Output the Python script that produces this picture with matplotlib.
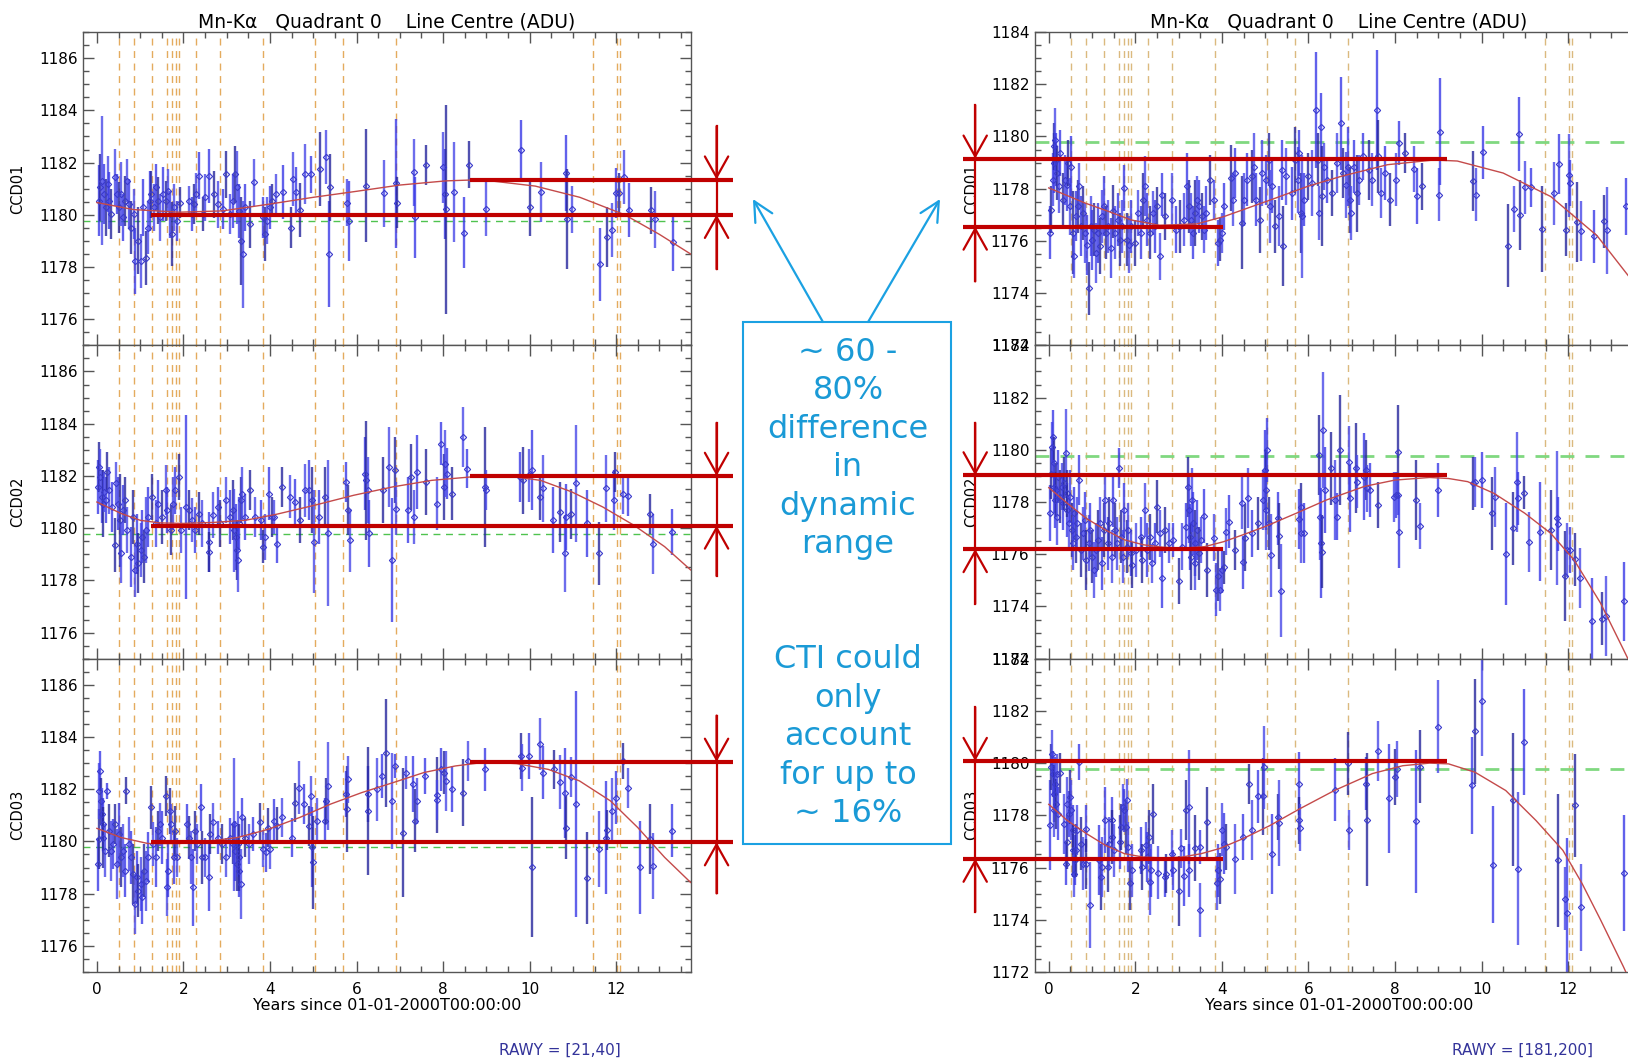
import matplotlib
matplotlib.use('Agg')
import matplotlib.pyplot as plt
from matplotlib.patches import Rectangle, FancyArrowPatch
from matplotlib.ticker import MultipleLocator
import numpy as np

# ---------------- data (years since 2000, line centre in ADU) ----------------

# orange dashed epochs (same on every panel)
event_years = [0.52, 0.85, 1.28, 1.62, 1.73, 1.83, 1.90, 2.29, 2.84, 3.84,
               5.05, 5.68, 6.91, 11.46, 12.03, 12.09]
ref_level = 1179.77

# RAWY [21,40]  CCD01
l1_x = [0.04, 0.08, 0.12, 0.17, 0.21, 0.25, 0.29, 0.33, 0.43, 0.46,
        0.52, 0.56, 0.60, 0.66, 0.70, 0.74, 0.80, 0.85, 0.88, 0.95,
        1.01, 1.07, 1.14, 1.18, 1.22, 1.26, 1.31, 1.36, 1.41, 1.47,
        1.52, 1.59, 1.65, 1.69, 1.73, 1.78, 1.84, 1.93, 2.14, 2.19,
        2.24, 2.29, 2.37, 2.45, 2.50, 2.60, 2.70, 2.81, 2.91, 2.99,
        3.07, 3.14, 3.20, 3.24, 3.28, 3.32, 3.37, 3.43, 3.53, 3.63,
        3.84, 3.89, 3.94, 3.99, 4.05, 4.15, 4.30, 4.48, 4.54, 4.61,
        4.69, 4.82, 4.95, 5.16, 5.30, 5.37, 5.39, 5.78, 5.83, 6.23,
        6.63, 6.91, 6.94, 7.33, 7.35, 7.61, 7.99, 8.05, 8.07, 8.25,
        8.48, 8.59, 9.00, 9.80, 10.01, 10.27, 10.84, 10.86, 10.98, 11.63,
        11.79, 11.91, 12.00, 12.06, 12.17, 12.30, 12.80, 12.90, 13.31]
l1_y = [1180.54, 1181.05, 1181.31, 1180.79, 1180.28, 1181.18, 1180.54, 1180.03, 1181.44, 1180.79,
        1180.28, 1180.79, 1179.90, 1180.54, 1181.31, 1180.41, 1179.51, 1180.03, 1178.23, 1179.00,
        1178.23, 1180.28, 1178.36, 1179.51, 1180.54, 1180.79, 1180.28, 1181.05, 1180.54, 1179.90,
        1180.79, 1180.54, 1180.92, 1180.03, 1179.26, 1180.28, 1179.77, 1180.47, 1180.54, 1180.03,
        1180.41, 1180.79, 1181.50, 1180.03, 1180.67, 1181.50, 1180.79, 1180.41, 1180.22, 1181.56,
        1180.03, 1180.54, 1181.56, 1181.05, 1180.15, 1179.00, 1178.49, 1180.28, 1179.64, 1181.24,
        1179.90, 1179.26, 1179.77, 1180.28, 1180.54, 1180.79, 1180.86, 1179.51, 1181.37, 1180.86,
        1180.18, 1181.56, 1181.56, 1181.76, 1182.21, 1178.49, 1181.05, 1180.47, 1179.77, 1181.12,
        1180.82, 1181.21, 1180.47, 1181.63, 1179.90, 1181.91, 1181.82, 1180.79, 1180.22, 1180.86,
        1179.32, 1181.91, 1180.22, 1182.50, 1180.28, 1180.88, 1181.60, 1179.83, 1180.22, 1178.10,
        1179.15, 1179.41, 1180.82, 1180.82, 1181.44, 1180.18, 1180.18, 1179.83, 1178.94]
l1_e = [1.35, 1.28, 2.47, 1.15, 1.09, 1.09, 1.09, 0.96, 1.09, 0.77,
        0.96, 1.22, 0.90, 0.96, 0.83, 0.96, 1.03, 0.96, 1.28, 1.28,
        1.03, 1.09, 1.03, 1.03, 1.15, 0.90, 0.90, 0.90, 0.90, 0.90,
        1.03, 0.77, 0.83, 0.90, 1.22, 0.90, 0.77, 0.58, 0.58, 0.64,
        0.77, 0.83, 0.90, 0.64, 0.90, 1.03, 0.90, 0.90, 0.77, 0.90,
        0.77, 1.03, 1.09, 1.41, 1.03, 1.67, 2.05, 0.90, 0.90, 0.90,
        0.77, 1.03, 0.90, 0.83, 0.64, 0.77, 1.03, 0.77, 1.03, 0.96,
        1.03, 1.15, 0.71, 1.41, 1.03, 2.02, 1.28, 0.90, 1.54, 2.18,
        1.28, 2.47, 0.96, 1.28, 1.54, 0.77, 1.35, 1.73, 4.00, 1.92,
        1.35, 0.90, 1.03, 1.15, 1.09, 1.15, 1.47, 1.92, 0.90, 1.41,
        1.15, 1.03, 0.96, 0.77, 1.03, 1.03, 0.90, 1.09, 1.09]
l1_fit_x = [0.0, 0.85, 1.9, 2.9, 3.95, 5.0, 6.0, 7.0, 8.07, 8.6, 9.1, 10.13, 11.16, 12.2, 13.0, 13.72]
l1_fit_y = [1180.47, 1180.20, 1180.10, 1180.15, 1180.40, 1180.67, 1180.90, 1181.14, 1181.30, 1181.33,
            1181.30, 1181.10, 1180.67, 1180.00, 1179.25, 1178.50]

# RAWY [21,40]  CCD02
l2_x = [0.02, 0.05, 0.08, 0.11, 0.13, 0.16, 0.20, 0.24, 0.29, 0.36,
        0.42, 0.45, 0.48, 0.54, 0.56, 0.60, 0.66, 0.69, 0.78, 0.83,
        0.87, 0.92, 0.96, 1.01, 1.05, 1.10, 1.14, 1.18, 1.27, 1.36,
        1.41, 1.50, 1.59, 1.63, 1.71, 1.77, 1.81, 1.89, 1.95, 2.06,
        2.13, 2.19, 2.26, 2.35, 2.44, 2.58, 2.60, 2.69, 2.80, 2.85,
        2.98, 3.07, 3.14, 3.18, 3.21, 3.23, 3.25, 3.28, 3.32, 3.36,
        3.43, 3.55, 3.65, 3.79, 3.84, 3.88, 3.97, 4.04, 4.10, 4.17,
        4.28, 4.46, 4.58, 4.69, 4.82, 4.91, 4.96, 5.01, 5.13, 5.27,
        5.34, 5.76, 5.81, 5.85, 6.19, 6.23, 6.26, 6.28, 6.62, 6.75,
        6.82, 6.89, 6.91, 7.18, 7.27, 7.33, 7.40, 7.60, 7.85, 7.96,
        8.01, 8.05, 8.08, 8.21, 8.46, 8.56, 8.98, 8.99, 9.78, 9.85,
        9.98, 10.05, 10.23, 10.30, 10.54, 10.70, 10.81, 10.84, 10.95, 11.08,
        11.33, 11.60, 11.76, 11.94, 11.97, 12.15, 12.27, 12.78, 12.85, 13.29]
l2_y = [1181.58, 1182.34, 1181.96, 1181.20, 1180.94, 1181.39, 1181.07, 1182.15, 1181.45, 1180.81,
        1179.35, 1181.71, 1180.94, 1180.31, 1179.03, 1180.69, 1181.07, 1179.92, 1178.90, 1180.43,
        1178.39, 1179.41, 1178.65, 1179.16, 1179.67, 1178.90, 1179.92, 1180.43, 1181.20, 1180.18,
        1180.94, 1180.43, 1181.45, 1180.69, 1179.92, 1180.94, 1181.45, 1181.96, 1179.92, 1180.81,
        1180.69, 1180.31, 1179.92, 1180.56, 1180.18, 1179.48, 1179.09, 1180.50, 1180.81, 1180.18,
        1181.07, 1180.43, 1180.69, 1179.92, 1179.67, 1179.16, 1178.78, 1180.18, 1181.07, 1181.32,
        1180.43, 1181.45, 1180.43, 1180.31, 1179.29, 1179.67, 1181.32, 1180.43, 1180.43, 1179.41,
        1181.58, 1181.20, 1181.01, 1180.31, 1181.45, 1181.45, 1181.07, 1179.48, 1180.43, 1181.20,
        1179.80, 1181.77, 1180.69, 1179.54, 1182.09, 1181.83, 1181.45, 1179.80, 1181.45, 1182.34,
        1178.78, 1182.22, 1180.75, 1180.69, 1181.96, 1180.43, 1182.15, 1181.77, 1180.94, 1183.24,
        1181.58, 1182.47, 1182.09, 1181.32, 1183.49, 1182.28, 1181.58, 1181.45, 1181.96, 1181.83,
        1182.02, 1182.22, 1181.20, 1181.52, 1180.31, 1180.62, 1179.03, 1180.43, 1180.53, 1181.71,
        1180.18, 1179.03, 1181.52, 1181.07, 1182.15, 1181.32, 1181.22, 1180.53, 1179.41, 1179.86]
l2_e = [1.02, 0.96, 1.08, 1.02, 1.27, 0.76, 0.89, 0.76, 0.89, 0.96,
        1.02, 0.83, 1.02, 1.78, 1.15, 0.96, 0.89, 0.89, 1.15, 1.02,
        1.02, 1.15, 1.15, 1.02, 1.02, 1.02, 1.27, 1.15, 0.89, 0.89,
        0.89, 1.02, 0.96, 0.89, 0.96, 1.02, 0.89, 0.89, 0.89, 3.54,
        0.76, 0.83, 0.89, 0.83, 0.89, 1.15, 0.76, 0.89, 0.76, 0.89,
        0.89, 1.02, 1.15, 1.59, 1.27, 1.15, 1.21, 1.02, 0.89, 1.02,
        0.89, 0.76, 0.76, 0.76, 0.64, 0.89, 1.02, 0.76, 0.64, 0.76,
        0.76, 0.83, 0.89, 0.89, 1.02, 1.15, 1.27, 1.97, 1.02, 1.15,
        2.80, 0.76, 0.96, 1.21, 1.40, 2.29, 1.27, 1.27, 1.27, 1.53,
        2.36, 1.27, 1.02, 1.27, 1.27, 1.02, 1.40, 1.27, 1.02, 0.83,
        1.27, 1.27, 0.96, 1.02, 1.15, 0.76, 2.29, 0.76, 0.96, 1.27,
        1.02, 1.53, 0.89, 1.27, 1.27, 1.15, 1.47, 1.27, 0.96, 2.23,
        1.27, 1.21, 1.27, 1.15, 0.76, 0.76, 0.76, 0.76, 1.15, 0.89]
l2_fit_x = [0.0, 0.56, 1.0, 1.45, 2.0, 2.71, 3.43, 4.15, 5.04, 5.94, 6.84, 7.74, 8.64, 9.53,
            10.25, 10.97, 11.69, 12.41, 13.12, 13.72]
l2_fit_y = [1181.00, 1180.56, 1180.30, 1180.20, 1180.18, 1180.22, 1180.30, 1180.53, 1180.88, 1181.26,
            1181.58, 1181.83, 1181.96, 1181.99, 1181.83, 1181.39, 1180.81, 1180.11, 1179.29, 1178.40]

# RAWY [21,40]  CCD03
l3_x = [0.02, 0.04, 0.05, 0.07, 0.09, 0.11, 0.13, 0.15, 0.18, 0.23,
        0.29, 0.33, 0.38, 0.43, 0.47, 0.51, 0.56, 0.60, 0.65, 0.67,
        0.74, 0.78, 0.83, 0.87, 0.92, 0.96, 1.01, 1.05, 1.10, 1.14,
        1.18, 1.26, 1.29, 1.36, 1.42, 1.45, 1.50, 1.59, 1.62, 1.65,
        1.68, 1.72, 1.78, 1.81, 1.86, 2.08, 2.13, 2.17, 2.22, 2.26,
        2.32, 2.40, 2.44, 2.51, 2.58, 2.62, 2.69, 2.80, 2.89, 2.98,
        3.07, 3.14, 3.18, 3.20, 3.23, 3.25, 3.28, 3.29, 3.32, 3.36,
        3.43, 3.52, 3.61, 3.77, 3.83, 3.90, 3.95, 4.01, 4.10, 4.17,
        4.28, 4.51, 4.58, 4.67, 4.78, 4.90, 4.94, 4.97, 4.99, 5.09,
        5.27, 5.30, 5.35, 5.76, 5.78, 5.80, 6.26, 6.27, 6.48, 6.60,
        6.69, 6.82, 6.89, 7.07, 7.15, 7.31, 7.34, 7.40, 7.59, 7.85,
        7.86, 7.96, 8.02, 8.06, 8.21, 8.46, 8.57, 8.98, 9.79, 9.83,
        9.98, 10.05, 10.23, 10.30, 10.57, 10.70, 10.81, 10.84, 10.95, 11.08,
        11.33, 11.60, 11.76, 11.78, 11.91, 12.00, 12.15, 12.27, 12.56, 12.78,
        12.85, 13.29]
l3_y = [1179.13, 1180.09, 1181.94, 1182.70, 1181.55, 1181.04, 1180.66, 1180.15, 1179.64, 1181.94,
        1180.41, 1179.64, 1179.90, 1180.66, 1179.13, 1180.28, 1179.39, 1179.64, 1178.88, 1181.94,
        1179.90, 1179.39, 1178.75, 1177.60, 1178.62, 1178.11, 1178.37, 1177.86, 1178.88, 1178.50,
        1179.39, 1181.30, 1179.90, 1179.39, 1180.41, 1180.66, 1180.15, 1181.74, 1178.24, 1178.88,
        1181.17, 1180.66, 1179.39, 1180.41, 1179.39, 1180.66, 1180.15, 1179.39, 1178.24, 1180.41,
        1179.90, 1181.30, 1179.39, 1179.39, 1178.62, 1180.28, 1180.73, 1180.15, 1179.90, 1179.39,
        1180.15, 1179.90, 1180.66, 1179.64, 1179.13, 1179.90, 1178.88, 1179.39, 1178.37, 1180.92,
        1180.15, 1179.90, 1180.28, 1180.73, 1179.71, 1179.58, 1180.53, 1179.71, 1180.79, 1180.60,
        1180.92, 1180.15, 1181.49, 1182.06, 1181.43, 1180.60, 1181.74, 1179.77, 1179.20, 1180.79,
        1180.79, 1181.55, 1182.13, 1181.81, 1181.24, 1182.38, 1181.81, 1181.17, 1182.00, 1182.51,
        1183.40, 1181.55, 1182.89, 1180.34, 1182.64, 1182.19, 1180.79, 1181.55, 1182.51, 1181.78,
        1181.58, 1182.76, 1182.64, 1182.32, 1182.00, 1181.87, 1183.08, 1182.76, 1183.27, 1182.83,
        1183.27, 1179.01, 1183.74, 1182.64, 1182.76, 1182.28, 1181.87, 1180.53, 1182.47, 1181.45,
        1178.60, 1179.71, 1180.15, 1180.45, 1181.17, 1181.68, 1183.08, 1182.04, 1179.01, 1180.09,
        1179.07, 1180.41]
l3_e = [1.02, 1.15, 1.08, 0.76, 0.89, 1.02, 1.02, 1.15, 1.02, 0.30,
        1.02, 1.15, 0.96, 0.76, 1.34, 1.21, 1.15, 1.02, 1.02, 0.51,
        1.02, 1.02, 1.15, 1.15, 1.02, 1.02, 1.02, 1.02, 1.02, 1.15,
        0.96, 0.83, 0.83, 1.15, 0.76, 0.83, 1.02, 0.76, 1.08, 1.02,
        0.89, 0.76, 1.02, 0.96, 0.76, 0.76, 0.83, 1.02, 1.47, 0.76,
        0.76, 0.89, 1.02, 0.76, 1.27, 0.76, 0.76, 0.64, 0.76, 0.76,
        0.76, 0.76, 2.55, 1.15, 1.02, 1.27, 1.02, 1.27, 1.34, 0.76,
        0.76, 0.76, 0.64, 0.76, 0.70, 0.76, 0.76, 0.76, 0.83, 0.70,
        0.76, 0.76, 0.76, 1.02, 0.76, 0.76, 0.76, 1.53, 1.78, 0.89,
        0.89, 0.89, 1.69, 0.89, 1.66, 0.89, 1.08, 2.45, 1.21, 0.83,
        2.07, 1.85, 0.45, 2.48, 0.64, 1.08, 1.21, 0.89, 0.70, 1.47,
        0.76, 0.83, 0.83, 1.15, 0.89, 1.27, 0.76, 0.83, 0.89, 0.89,
        0.89, 2.68, 0.99, 1.02, 0.76, 1.02, 1.72, 1.21, 0.76, 4.33,
        1.78, 1.47, 2.17, 0.76, 1.27, 1.02, 0.70, 0.76, 1.78, 1.34,
        1.27, 1.02]
l3_fit_x = [0.0, 0.56, 1.18, 1.9, 2.62, 3.25, 3.97, 4.69, 5.4, 6.12, 6.84, 7.56, 8.28, 9.0, 9.7,
            10.43, 11.15, 11.87, 12.5, 13.12, 13.72]
l3_fit_y = [1180.50, 1180.15, 1179.92, 1179.92, 1180.02, 1180.15, 1180.47, 1180.92, 1181.43, 1181.87,
            1182.25, 1182.64, 1182.89, 1183.04, 1182.98, 1182.76, 1182.32, 1181.55, 1180.53, 1179.39,
            1178.43]

# RAWY [181,200]  CCD01
r1_x = [0.03, 0.05, 0.09, 0.11, 0.13, 0.15, 0.17, 0.19, 0.23, 0.27,
        0.32, 0.37, 0.41, 0.44, 0.48, 0.52, 0.55, 0.58, 0.62, 0.67,
        0.71, 0.75, 0.80, 0.84, 0.88, 0.92, 0.97, 1.01, 1.05, 1.10,
        1.14, 1.18, 1.23, 1.27, 1.32, 1.38, 1.43, 1.48, 1.54, 1.59,
        1.64, 1.70, 1.75, 1.81, 1.86, 1.91, 2.00, 2.07, 2.13, 2.18,
        2.22, 2.27, 2.34, 2.40, 2.45, 2.51, 2.56, 2.61, 2.69, 2.84,
        2.93, 3.03, 3.12, 3.20, 3.25, 3.29, 3.33, 3.38, 3.42, 3.47,
        3.53, 3.58, 3.63, 3.72, 3.81, 3.91, 3.96, 4.01, 4.06, 4.20,
        4.26, 4.30, 4.47, 4.52, 4.58, 4.69, 4.74, 4.79, 4.87, 4.92,
        5.03, 5.09, 5.12, 5.16, 5.22, 5.31, 5.38, 5.41, 5.48, 5.62,
        5.68, 5.76, 5.78, 5.82, 5.85, 5.89, 6.00, 6.09, 6.17, 6.22,
        6.25, 6.29, 6.32, 6.36, 6.43, 6.54, 6.65, 6.75, 6.80, 6.86,
        6.91, 6.95, 6.99, 7.05, 7.13, 7.18, 7.27, 7.40, 7.46, 7.59,
        7.61, 7.67, 7.77, 7.88, 8.02, 8.09, 8.23, 8.43, 8.52, 8.63,
        9.01, 9.03, 9.81, 9.87, 10.03, 10.62, 10.75, 10.87, 10.89, 11.00,
        11.14, 11.40, 11.67, 11.80, 11.96, 12.02, 12.04, 12.21, 12.31, 12.61,
        12.82, 12.90, 13.33]
r1_y = [1176.31, 1177.20, 1178.34, 1178.98, 1179.62, 1179.87, 1179.11, 1178.60, 1178.09, 1179.36,
        1177.58, 1178.34, 1178.15, 1178.98, 1177.32, 1178.85, 1176.31, 1175.41, 1176.94, 1177.32,
        1178.09, 1176.56, 1177.07, 1176.31, 1175.86, 1174.19, 1176.56, 1176.05, 1176.43, 1175.54,
        1176.31, 1175.80, 1176.94, 1177.32, 1176.31, 1176.56, 1175.73, 1177.13, 1176.31, 1176.81,
        1176.05, 1176.56, 1178.03, 1176.05, 1175.86, 1176.56, 1175.92, 1177.07, 1176.31, 1177.58,
        1178.09, 1176.81, 1176.31, 1177.07, 1176.56, 1177.32, 1175.41, 1177.77, 1176.94, 1177.58,
        1176.43, 1176.56, 1176.81, 1178.09, 1177.32, 1176.81, 1176.31, 1177.07, 1177.58, 1177.32,
        1176.94, 1176.43, 1177.07, 1178.34, 1177.58, 1175.92, 1176.05, 1176.31, 1177.32, 1178.41,
        1177.58, 1178.60, 1176.69, 1177.58, 1178.34, 1178.47, 1178.85, 1177.58, 1176.81, 1178.60,
        1178.34, 1179.11, 1177.32, 1178.09, 1176.56, 1176.94, 1178.73, 1175.80, 1178.47, 1177.83,
        1179.11, 1178.34, 1179.36, 1177.07, 1176.94, 1177.58, 1178.47, 1178.22, 1181.02, 1179.11,
        1177.07, 1180.38, 1177.71, 1178.85, 1178.34, 1177.83, 1178.98, 1180.51, 1178.60, 1178.15,
        1178.85, 1177.58, 1177.07, 1178.85, 1177.83, 1178.34, 1179.24, 1178.73, 1178.34, 1181.02,
        1179.24, 1177.83, 1178.60, 1177.58, 1178.34, 1179.75, 1179.36, 1178.75, 1177.71, 1178.09,
        1177.77, 1180.19, 1178.28, 1177.77, 1179.40, 1175.82, 1177.22, 1180.10, 1177.01, 1178.05,
        1178.05, 1176.46, 1177.83, 1178.94, 1176.43, 1178.51, 1178.22, 1176.71, 1176.37, 1176.18,
        1176.75, 1176.41, 1177.32]
r1_e = [1.02, 0.89, 1.02, 1.15, 0.89, 1.21, 1.02, 1.02, 1.02, 0.89,
        1.02, 0.96, 1.02, 0.89, 1.08, 1.15, 1.59, 0.83, 0.96, 1.02,
        0.89, 1.15, 1.02, 1.15, 1.15, 1.02, 1.15, 1.15, 1.02, 1.15,
        1.15, 1.08, 1.02, 1.15, 1.02, 1.02, 1.15, 1.02, 1.02, 1.02,
        1.02, 1.02, 0.89, 1.02, 1.08, 1.02, 0.89, 0.89, 1.02, 1.02,
        1.15, 1.02, 1.02, 0.83, 1.02, 0.76, 0.89, 0.83, 0.89, 1.02,
        0.89, 1.02, 1.02, 1.27, 1.02, 1.02, 1.02, 1.27, 0.89, 1.02,
        0.89, 0.89, 1.02, 0.96, 0.76, 0.89, 0.83, 0.76, 0.89, 1.27,
        1.02, 0.96, 1.78, 1.02, 1.02, 1.02, 1.27, 1.02, 1.27, 1.27,
        0.96, 1.02, 1.40, 1.02, 1.02, 1.15, 1.15, 1.53, 1.08, 1.02,
        1.27, 1.27, 0.89, 1.53, 2.36, 1.02, 0.89, 1.27, 2.23, 1.02,
        1.02, 1.27, 1.91, 0.89, 0.89, 0.89, 1.15, 1.78, 0.96, 1.27,
        1.53, 1.27, 1.02, 1.02, 1.47, 0.96, 0.89, 1.15, 1.02, 2.29,
        1.40, 0.96, 1.02, 1.02, 1.02, 0.83, 0.76, 0.89, 1.08, 0.89,
        1.02, 2.04, 1.15, 1.02, 1.02, 1.59, 0.89, 1.43, 1.34, 1.02,
        0.76, 1.66, 1.21, 1.15, 1.02, 1.59, 0.89, 1.53, 1.15, 1.02,
        1.02, 1.66, 1.08]
r1_fit_x = [0.0, 0.84, 1.38, 1.91, 2.56, 3.42, 4.06, 5.14, 6.0, 6.75, 7.83, 8.9, 9.44, 10.5,
            11.6, 12.67, 13.4, 13.6]
r1_fit_y = [1178.03, 1177.45, 1177.13, 1176.80, 1176.60, 1176.65, 1176.94, 1177.58, 1178.10, 1178.47,
            1178.92, 1179.10, 1179.06, 1178.60, 1177.70, 1176.20, 1174.65, 1174.20]

# RAWY [181,200]  CCD02
r2_x = [0.04, 0.06, 0.08, 0.10, 0.12, 0.13, 0.15, 0.17, 0.20, 0.22,
        0.26, 0.30, 0.33, 0.36, 0.39, 0.42, 0.43, 0.47, 0.50, 0.54,
        0.57, 0.59, 0.63, 0.66, 0.70, 0.74, 0.79, 0.83, 0.87, 0.92,
        0.96, 1.01, 1.05, 1.09, 1.14, 1.18, 1.23, 1.27, 1.31, 1.36,
        1.40, 1.45, 1.49, 1.53, 1.58, 1.63, 1.67, 1.71, 1.75, 1.80,
        1.84, 1.89, 1.93, 2.02, 2.12, 2.16, 2.23, 2.28, 2.35, 2.39,
        2.46, 2.51, 2.56, 2.62, 2.69, 2.77, 2.86, 3.01, 3.08, 3.16,
        3.21, 3.23, 3.26, 3.29, 3.31, 3.34, 3.37, 3.39, 3.43, 3.47,
        3.51, 3.59, 3.65, 3.81, 3.87, 3.91, 3.96, 4.00, 4.04, 4.10,
        4.17, 4.31, 4.47, 4.49, 4.54, 4.61, 4.69, 4.84, 4.94, 4.99,
        5.01, 5.03, 5.05, 5.10, 5.13, 5.29, 5.33, 5.36, 5.79, 5.82,
        5.84, 5.89, 6.24, 6.27, 6.30, 6.31, 6.33, 6.38, 6.53, 6.61,
        6.65, 6.72, 6.93, 6.95, 7.09, 7.12, 7.28, 7.32, 7.36, 7.42,
        7.61, 7.98, 8.02, 8.06, 8.07, 8.09, 8.49, 8.58, 8.99, 9.81,
        9.85, 10.01, 10.25, 10.31, 10.56, 10.72, 10.82, 10.85, 10.98, 11.10,
        11.35, 11.60, 11.75, 11.77, 11.92, 11.97, 12.04, 12.16, 12.27, 12.56,
        12.78, 12.87, 13.29]
r2_y = [1177.57, 1179.09, 1180.11, 1180.50, 1179.48, 1178.59, 1178.08, 1178.46, 1177.44, 1178.97,
        1178.20, 1178.59, 1177.95, 1178.71, 1179.86, 1177.69, 1178.33, 1177.18, 1178.20, 1176.93,
        1176.42, 1177.57, 1176.67, 1177.18, 1178.84, 1176.16, 1176.80, 1177.31, 1175.78, 1176.42,
        1176.93, 1175.91, 1175.40, 1176.16, 1176.55, 1177.18, 1175.65, 1176.93, 1178.08, 1176.42,
        1177.18, 1175.91, 1178.08, 1176.93, 1176.42, 1179.29, 1176.67, 1175.91, 1177.69, 1176.29,
        1176.93, 1176.04, 1175.59, 1176.16, 1176.67, 1175.78, 1177.69, 1176.16, 1176.67, 1175.65,
        1176.42, 1177.82, 1176.80, 1175.08, 1176.93, 1176.42, 1176.55, 1174.98, 1176.29, 1177.06,
        1178.59, 1177.69, 1176.67, 1175.91, 1178.08, 1177.18, 1176.42, 1175.65, 1176.93, 1176.04,
        1176.55, 1177.46, 1175.40, 1176.64, 1174.64, 1175.15, 1174.64, 1175.40, 1175.50, 1176.87,
        1177.25, 1176.16, 1177.97, 1175.69, 1176.64, 1178.14, 1176.80, 1177.18, 1178.08, 1179.22,
        1178.46, 1177.69, 1179.99, 1177.18, 1175.97, 1177.37, 1176.70, 1174.61, 1177.34, 1177.82,
        1176.80, 1176.80, 1179.80, 1177.44, 1176.42, 1176.10, 1180.75, 1178.46, 1179.29, 1178.08,
        1177.44, 1179.99, 1179.52, 1178.14, 1179.29, 1178.78, 1178.97, 1179.22, 1178.52, 1178.46,
        1177.88, 1178.20, 1178.27, 1179.92, 1178.27, 1176.87, 1178.08, 1177.08, 1178.46, 1178.71,
        1178.76, 1178.84, 1177.57, 1178.18, 1176.01, 1176.99, 1178.78, 1178.14, 1178.36, 1176.48,
        1176.87, 1176.93, 1177.39, 1177.16, 1175.18, 1176.16, 1176.16, 1175.81, 1175.08, 1173.43,
        1173.53, 1173.65, 1174.19]
r2_e = [1.08, 0.96, 0.96, 1.02, 1.02, 1.02, 1.08, 1.02, 1.08, 1.02,
        1.02, 0.89, 1.02, 1.02, 1.69, 1.02, 0.89, 1.02, 1.02, 1.02,
        1.02, 1.02, 1.02, 1.02, 0.96, 1.02, 1.02, 1.08, 1.15, 1.08,
        1.02, 1.02, 1.08, 1.02, 1.15, 1.02, 1.02, 1.02, 0.89, 1.02,
        1.02, 1.02, 1.02, 1.02, 1.02, 0.76, 1.02, 1.02, 1.02, 1.02,
        1.02, 0.89, 0.89, 1.02, 0.76, 0.89, 1.02, 1.02, 0.89, 0.76,
        0.76, 1.02, 0.89, 1.15, 0.89, 0.76, 0.64, 0.89, 0.89, 0.89,
        1.15, 1.27, 1.27, 1.27, 1.21, 1.21, 1.27, 1.02, 1.15, 1.02,
        0.89, 1.02, 1.02, 0.89, 1.02, 0.96, 0.83, 0.89, 0.64, 0.89,
        1.02, 0.76, 1.02, 1.02, 1.27, 1.15, 0.89, 1.02, 1.15, 1.53,
        1.53, 1.53, 1.21, 1.02, 1.59, 1.02, 1.27, 1.78, 1.15, 0.89,
        1.15, 1.15, 1.53, 1.66, 2.10, 1.40, 2.23, 1.66, 1.40, 1.53,
        0.89, 2.10, 1.40, 1.27, 1.72, 1.02, 1.66, 1.15, 0.89, 1.02,
        0.89, 0.96, 0.89, 1.78, 0.76, 1.40, 1.53, 0.89, 1.02, 1.02,
        0.96, 1.08, 1.40, 1.15, 1.97, 1.40, 1.91, 1.02, 0.64, 1.15,
        1.91, 1.53, 2.55, 1.02, 1.72, 1.02, 0.89, 1.02, 1.15, 1.66,
        1.02, 1.53, 1.53]
r2_fit_x = [0.0, 0.43, 0.87, 1.31, 1.75, 2.19, 2.63, 3.07, 3.6, 4.04, 4.48, 5.0, 5.72, 6.42, 7.3,
            8.0, 8.8, 9.24, 9.68, 10.29, 11.0, 11.6, 12.14, 12.75, 13.28, 13.5]
r2_fit_y = [1178.55, 1177.95, 1177.37, 1176.93, 1176.55, 1176.36, 1176.27, 1176.23, 1176.29, 1176.48,
            1176.74, 1177.06, 1177.57, 1178.08, 1178.60, 1178.84, 1178.94, 1178.90, 1178.78, 1178.33,
            1177.57, 1176.80, 1175.78, 1174.13, 1172.35, 1171.60]

# RAWY [181,200]  CCD03
r3_x = [0.04, 0.06, 0.08, 0.10, 0.12, 0.13, 0.15, 0.17, 0.19, 0.21,
        0.26, 0.35, 0.39, 0.42, 0.43, 0.46, 0.49, 0.52, 0.55, 0.57,
        0.59, 0.61, 0.64, 0.66, 0.70, 0.74, 0.79, 0.86, 0.87, 0.96,
        1.16, 1.21, 1.24, 1.30, 1.36, 1.40, 1.45, 1.47, 1.51, 1.64,
        1.68, 1.72, 1.75, 1.78, 1.81, 1.84, 1.88, 1.93, 2.12, 2.16,
        2.24, 2.28, 2.32, 2.35, 2.37, 2.41, 2.53, 2.68, 2.72, 2.85,
        2.86, 3.01, 3.06, 3.13, 3.18, 3.23, 3.25, 3.38, 3.49, 3.50,
        3.65, 3.88, 3.91, 3.96, 4.00, 4.04, 4.09, 4.31, 4.48, 4.62,
        4.69, 4.84, 4.94, 4.98, 5.17, 5.29, 5.33, 5.79, 5.79, 5.80,
        6.61, 6.91, 6.93, 7.32, 7.35, 7.61, 7.87, 7.99, 8.05, 8.49,
        8.59, 8.99, 9.79, 9.85, 10.01, 10.27, 10.72, 10.84, 10.98, 11.77,
        11.92, 11.97, 12.16, 12.29, 13.29]
r3_y = [1177.62, 1179.85, 1180.36, 1179.59, 1178.83, 1178.19, 1179.21, 1178.45, 1179.59, 1178.06,
        1179.62, 1177.68, 1176.15, 1176.98, 1178.45, 1178.06, 1178.70, 1178.19, 1177.43, 1176.66,
        1175.77, 1176.28, 1176.66, 1177.43, 1180.04, 1176.92, 1176.15, 1177.49, 1176.15, 1174.56,
        1176.28, 1175.64, 1176.02, 1177.81, 1176.02, 1176.92, 1177.81, 1177.17, 1176.66, 1176.98,
        1177.55, 1178.32, 1178.19, 1177.55, 1178.57, 1176.79, 1175.39, 1175.90, 1176.66, 1176.02,
        1176.85, 1176.41, 1177.17, 1175.45, 1175.90, 1178.06, 1175.80, 1175.64, 1175.77, 1176.53,
        1175.90, 1175.09, 1176.73, 1175.69, 1178.19, 1178.32, 1175.90, 1176.75, 1174.37, 1176.79,
        1177.76, 1175.41, 1175.90, 1175.58, 1177.45, 1176.92, 1176.79, 1176.34, 1177.17, 1179.21,
        1177.45, 1178.73, 1178.73, 1179.85, 1176.53, 1177.94, 1177.71, 1179.21, 1177.81, 1177.53,
        1178.98, 1180.00, 1177.45, 1179.21, 1177.83, 1180.45, 1178.65, 1179.46, 1179.78, 1177.77,
        1179.87, 1181.40, 1179.15, 1181.22, 1182.36, 1176.11, 1178.60, 1175.96, 1180.80, 1176.28,
        1174.81, 1174.27, 1178.38, 1174.47, 1175.80]
r3_e = [1.72, 0.89, 0.89, 0.89, 1.08, 1.02, 1.02, 0.96, 0.76, 1.02,
        0.76, 1.15, 0.83, 1.02, 1.02, 0.89, 1.02, 1.15, 0.96, 1.02,
        0.89, 0.96, 1.02, 0.96, 0.70, 1.02, 1.02, 0.89, 0.96, 1.66,
        1.34, 1.27, 1.15, 1.27, 0.96, 1.02, 0.89, 1.02, 1.02, 1.02,
        0.89, 0.89, 0.83, 1.02, 0.83, 0.96, 1.02, 1.02, 0.89, 0.89,
        0.89, 0.96, 1.02, 1.27, 1.02, 1.15, 1.02, 0.76, 0.76, 0.89,
        0.76, 1.34, 0.76, 1.15, 1.15, 2.17, 1.02, 1.27, 1.02, 0.64,
        1.34, 1.02, 1.02, 0.96, 1.02, 1.15, 0.89, 1.34, 0.89, 0.76,
        1.15, 1.02, 1.47, 1.59, 1.53, 0.89, 1.66, 1.21, 0.89, 0.89,
        1.21, 1.21, 0.76, 1.02, 2.55, 1.15, 2.10, 1.08, 1.08, 2.74,
        1.40, 1.78, 1.85, 2.01, 2.10, 2.23, 2.55, 2.93, 2.04, 2.55,
        1.21, 2.87, 1.97, 1.66, 2.23]
r3_fit_x = [0.0, 0.43, 0.87, 1.31, 1.75, 2.19, 2.63, 3.07, 3.52, 3.95, 4.48, 5.1, 5.8, 6.6, 7.48,
            8.18, 8.8, 9.24, 9.85, 10.56, 11.26, 11.88, 12.32, 12.75, 13.28, 13.5]
r3_fit_y = [1178.42, 1177.80, 1177.30, 1176.85, 1176.53, 1176.40, 1176.37, 1176.40, 1176.53, 1176.73,
            1177.10, 1177.60, 1178.25, 1178.95, 1179.60, 1179.90, 1180.00, 1179.97, 1179.65, 1178.95,
            1177.80, 1176.66, 1175.40, 1174.00, 1172.20, 1171.40]

# red range markers: (upper level, lower level, arrow top, arrow bottom)
left_ranges = [(1181.35, 1180.00, 1183.39, 1177.92),
               (1182.00, 1180.10, 1184.03, 1178.17),
               (1183.05, 1179.97, 1184.82, 1178.01)]
right_ranges = [(1179.15, 1176.55, 1181.20, 1174.45),
                (1179.02, 1176.20, 1181.03, 1174.10),
                (1180.08, 1176.34, 1182.14, 1174.30)]

# ---------------- figure ----------------
RED = '#c00000'
BLUE_NOTE = '#1ba1e2'
BAR_COLS = ['#3a3ae6', '#26269c', '#4848e8']

fig = plt.figure(figsize=(16.28, 10.61), dpi=100)

panel_h = 0.2953
bottom0 = 0.0839
ax_w = 0.3732
xlim = (-0.32, 13.72)


def draw_panel(ax, x, y, e, fx, fy, ylim, ticks, vcol, gcol, glw):
    n = min(len(x), len(y), len(e))
    x = np.array(x[:n]); y = np.array(y[:n]); e = np.array(e[:n])
    for ev in event_years:
        ax.axvline(ev, color=vcol, lw=1.0, dashes=(5, 4), zorder=1)
    ax.axhline(ref_level, color=gcol, lw=glw, dashes=(5, 4), zorder=1.5)
    cols = [BAR_COLS[i % 3] for i in range(n)]
    ax.vlines(x, y - e, y + e, colors=cols, lw=1.7, alpha=0.8, zorder=2)
    ax.plot(x, y, 'D', ms=3.2, mfc='none', mec='#3a3acc', mew=0.8, zorder=2.2)
    ax.plot(fx, fy, color='#c44a4a', lw=1.0, zorder=3)
    ax.set_xlim(*xlim)
    ax.set_ylim(*ylim)
    ax.set_yticks(ticks)
    ax.set_xticks(range(0, 14, 2))
    ax.xaxis.set_minor_locator(MultipleLocator(0.5))
    ax.yaxis.set_minor_locator(MultipleLocator(0.5))
    ax.tick_params(which='both', direction='in', top=True, right=True,
                   color='#555555', width=1.0, labelsize=11)
    ax.tick_params(which='major', length=8)
    ax.tick_params(which='minor', length=4)
    ax.tick_params(axis='y', pad=4)
    ax.tick_params(axis='x', pad=7)
    for s in ax.spines.values():
        s.set_color('#555555')
        s.set_linewidth(1.0)


def mark_range(ax, xa, up, lo, top, bot, up_x, lo_x):
    ax.plot(up_x, [up, up], color=RED, lw=3.0, solid_capstyle='butt', clip_on=False, zorder=6)
    ax.plot(lo_x, [lo, lo], color=RED, lw=3.0, solid_capstyle='butt', clip_on=False, zorder=6)
    ax.plot([xa, xa], [bot, top], color=RED, lw=1.6, clip_on=False, zorder=6)
    head = dict(arrowstyle='->,head_length=0.75,head_width=0.42', color=RED, lw=1.6,
                shrinkA=0, shrinkB=0, mutation_scale=20)
    ax.annotate('', xy=(xa, up), xytext=(xa, top), arrowprops=head,
                annotation_clip=False, zorder=7)
    ax.annotate('', xy=(xa, lo), xytext=(xa, bot), arrowprops=head,
                annotation_clip=False, zorder=7)


left_sets = [(l1_x, l1_y, l1_e, l1_fit_x, l1_fit_y),
             (l2_x, l2_y, l2_e, l2_fit_x, l2_fit_y),
             (l3_x, l3_y, l3_e, l3_fit_x, l3_fit_y)]
right_sets = [(r1_x, r1_y, r1_e, r1_fit_x, r1_fit_y),
              (r2_x, r2_y, r2_e, r2_fit_x, r2_fit_y),
              (r3_x, r3_y, r3_e, r3_fit_x, r3_fit_y)]
ccd_names = ['CCD01', 'CCD02', 'CCD03']

for group, (x0, sets, ylim, ticks, vcol, gcol, glw, ranges, lab_x) in enumerate([
        (0.0510, left_sets, (1175, 1187), range(1176, 1187, 2), '#e4ab5e', '#4fc34f', 1.0,
         left_ranges, -0.096),
        (0.6357, right_sets, (1172, 1184), range(1172, 1185, 2), '#dbb97e', '#80d880', 2.0,
         right_ranges, -0.092)]):
    for i in range(3):
        ax = fig.add_axes([x0, bottom0 + (2 - i) * panel_h, ax_w, panel_h])
        x, y, e, fx, fy = sets[i]
        draw_panel(ax, x, y, e, fx, fy, ylim, ticks, vcol, gcol, glw)
        ax.set_ylabel(ccd_names[i], fontsize=10.5)
        ax.yaxis.set_label_coords(lab_x, 0.5)
        if i < 2:
            ax.tick_params(labelbottom=False)
        else:
            ax.set_xlabel('Years since 01-01-2000T00:00:00', fontsize=11.5)
            ax.xaxis.set_label_coords(0.5, -0.083)
        up, lo, top, bot = ranges[i]
        if group == 0:
            mark_range(ax, 14.32, up, lo, top, bot, [8.62, 14.69], [1.25, 14.69])
        else:
            mark_range(ax, -1.70, up, lo, top, bot, [-1.99, 9.20], [-1.99, 4.03])

title = 'Mn-K\u03b1   Quadrant 0    Line Centre (ADU)'
fig.text(0.2374, 0.979, title, ha='center', va='center', fontsize=13.5)
fig.text(0.8223, 0.979, title, ha='center', va='center', fontsize=13.5)
fig.text(0.344, 0.0105, 'RAWY = [21,40]', ha='center', va='center', fontsize=11, color='#33339a')
fig.text(0.935, 0.0105, 'RAWY = [181,200]', ha='center', va='center', fontsize=11, color='#33339a')

# central note with arrows
fig.add_artist(Rectangle((0.4564, 0.2045), 0.1278, 0.4920, transform=fig.transFigure,
                         facecolor='white', edgecolor=BLUE_NOTE, lw=1.5, zorder=10))
note = ('~ 60 -\n80%\ndifference\nin\ndynamic\nrange\n\n\n'
        'CTI could\nonly\naccount\nfor up to\n~ 16%')
fig.text(0.5209, 0.4505, note, ha='center', va='center', fontsize=23, color='#1a9ad6',
         linespacing=1.31, zorder=11)
for (xa, ya, xb, yb) in [(0.5055, 0.6965, 0.4625, 0.8124), (0.5332, 0.6965, 0.5774, 0.8124)]:
    fig.add_artist(FancyArrowPatch((xa, ya), (xb, yb), transform=fig.transFigure,
                                   arrowstyle='->,head_length=0.7,head_width=0.35',
                                   mutation_scale=20, color=BLUE_NOTE, lw=1.6,
                                   shrinkA=0, shrinkB=0, zorder=10))

fig.savefig('out.png', dpi=100)
